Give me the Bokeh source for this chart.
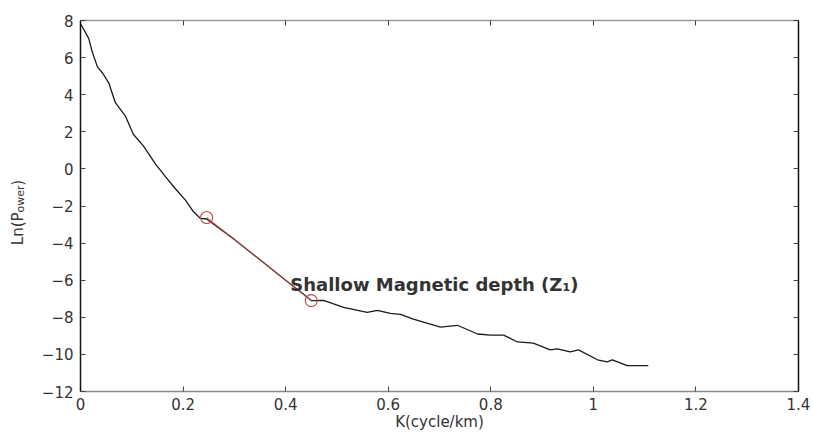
import math
from bokeh.plotting import figure
from bokeh.layouts import row
from bokeh.models import LinearAxis, Range1d, CustomJSTickFormatter, Label
from bokeh.embed import file_html
from bokeh.resources import INLINE

# Radially averaged power spectrum: wavenumber vs ln(power)
k = [0.0, 0.002, 0.016, 0.023, 0.033, 0.043, 0.055, 0.068, 0.088, 0.103, 0.123, 0.146,
     0.166, 0.185, 0.205, 0.220, 0.234, 0.246,
     0.30, 0.35, 0.40, 0.43, 0.45, 0.474, 0.513, 0.559, 0.579, 0.604, 0.624, 0.649,
     0.702, 0.735, 0.774, 0.800, 0.825, 0.852, 0.883, 0.916, 0.930, 0.955, 0.971,
     1.008, 1.027, 1.037, 1.066, 1.107]
ln_power = [7.80, 7.73, 7.04, 6.30, 5.50, 5.17, 4.64, 3.57, 2.83, 1.87, 1.23, 0.27,
            -0.43, -1.07, -1.70, -2.30, -2.67, -2.70,
            -3.80, -4.90, -6.00, -6.65, -7.10, -7.09, -7.47, -7.73, -7.63, -7.79, -7.84, -8.10,
            -8.53, -8.43, -8.90, -8.96, -8.96, -9.33, -9.39, -9.76, -9.70, -9.87, -9.76,
            -10.29, -10.40, -10.29, -10.61, -10.61]

# Linear fit segment for the shallow source
fit_k = [0.246, 0.45]
fit_ln = [-2.62, -7.10]

x_ticks = [0, 0.2, 0.4, 0.6, 0.8, 1.0, 1.2, 1.4]
y_ticks = [-12, -10, -8, -6, -4, -2, 0, 2, 4, 6, 8]

TICK_FONT = "DejaVu Sans"
H = 433
TITLE_W = 30

p = figure(width=813 - TITLE_W, height=H, output_backend="svg", toolbar_location=None,
           x_range=Range1d(0, 1.4), y_range=Range1d(-12, 8),
           min_border_left=80 - TITLE_W, min_border_right=15, min_border_top=20,
           min_border_bottom=38, background_fill_color="white", border_fill_color="white")
p.grid.visible = False
p.outline_line_color = None

fmt = CustomJSTickFormatter(code="return String(Math.round(tick*10)/10);")
blank = CustomJSTickFormatter(code="return '';")

def style_axis(ax, color):
    ax.axis_line_color = color
    ax.axis_line_width = 1.5
    ax.major_tick_in = 5
    ax.major_tick_out = 0
    ax.minor_tick_line_color = None
    ax.major_tick_line_color = "#444444"
    ax.major_label_text_font = TICK_FONT
    ax.major_label_text_font_size = "15px"
    ax.major_label_text_color = "#333333"

p.xaxis.ticker = x_ticks
p.yaxis.ticker = y_ticks
p.xaxis.formatter = fmt
style_axis(p.xaxis[0], "#888888")
style_axis(p.yaxis[0], "#111111")
p.xaxis.major_label_standoff = 6
p.yaxis.major_label_standoff = 7
p.xaxis.axis_label = "K(cycle/km)"
p.xaxis.axis_label_text_font = TICK_FONT
p.xaxis.axis_label_text_font_size = "15px"
p.xaxis.axis_label_text_font_style = "normal"
p.xaxis.axis_label_text_color = "#333333"
p.xaxis.axis_label_standoff = 0

top = LinearAxis(ticker=x_ticks, formatter=blank)
style_axis(top, "#999999")
top.major_label_standoff = 0
p.add_layout(top, "above")
right = LinearAxis(ticker=y_ticks, formatter=blank)
style_axis(right, "#111111")
right.major_label_standoff = 0
p.add_layout(right, "right")

p.line(k, ln_power, line_color="#1a1a1a", line_width=1.3)
p.line(fit_k, fit_ln, line_color="#c0504d", line_width=1.2, line_alpha=0.8)
p.scatter(fit_k, fit_ln, marker="circle", size=12, fill_color=None,
          line_color="#c0504d", line_width=1.2)

p.add_layout(Label(x=0.409, y=-6.24, text="Shallow Magnetic depth (Z\u2081)",
                   text_font="DejaVu Sans", text_font_style="bold", text_font_size="18px",
                   text_color="#333333", text_baseline="alphabetic"))

# Narrow strip on the left that carries the vertical title "Ln(P_ower)".
# It shares the ln(power) scale so its frame lines up with the main plot.
t = figure(width=TITLE_W, height=H, output_backend="svg", toolbar_location=None,
           x_range=Range1d(0, TITLE_W), y_range=Range1d(-12, 8),
           x_axis_type=None, y_axis_type=None,
           min_border_left=0, min_border_right=0, min_border_top=20, min_border_bottom=38,
           background_fill_color="white", border_fill_color="white")
t.grid.visible = False
t.outline_line_color = None
ylab = dict(angle=math.pi / 2, text_font=TICK_FONT, text_color="#333333",
            text_baseline="middle", text_align="left")
t.add_layout(Label(text="Ln(P", text_font_size="15px", x=17, y=-4.11, **ylab))
t.add_layout(Label(text="ower", text_font_size="11px", x=20, y=-2.35, **ylab))
t.add_layout(Label(text=")", text_font_size="15px", x=17, y=-0.91, **ylab))

layout = row(t, p, spacing=0)
open("out.html", "w").write(file_html(layout, INLINE))
